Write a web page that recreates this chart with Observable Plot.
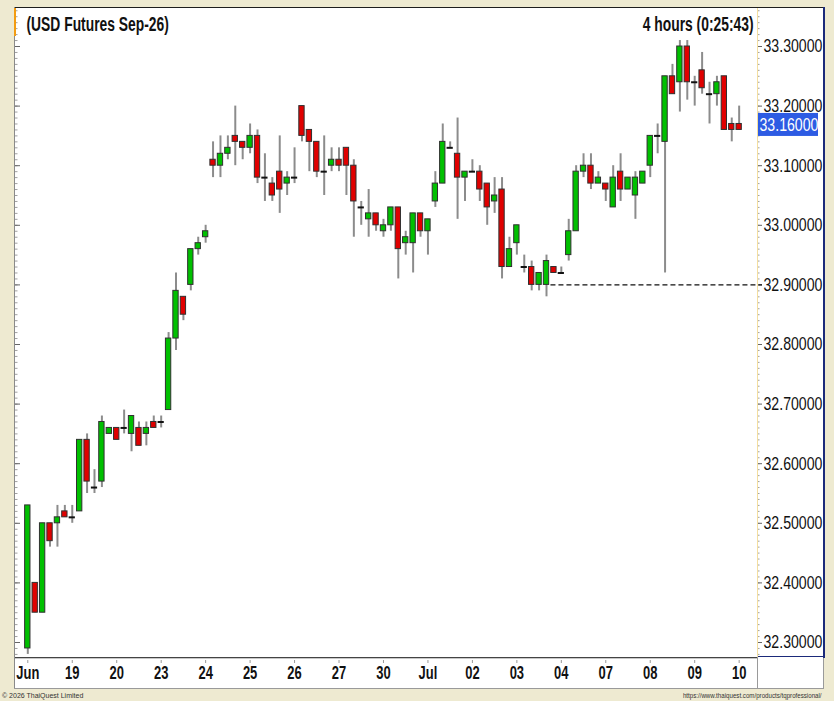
<!DOCTYPE html>
<html>
<head>
<meta charset="utf-8">
<script src="https://cdn.jsdelivr.net/npm/d3@7"></script>
<script src="https://cdn.jsdelivr.net/npm/@observablehq/plot@0.6"></script>
<style>
html,body{margin:0;padding:0;}
body{width:834px;height:701px;background:#eeead1;position:relative;overflow:hidden;font-family:"Liberation Sans",Arial,Helvetica,sans-serif;}
#chart{position:absolute;left:14px;top:7px;}
.ln{position:absolute;}
#copy{position:absolute;left:2px;top:692px;font-size:7px;line-height:8px;color:#333;white-space:nowrap;}
#url{position:absolute;right:12px;top:692px;font-size:7px;line-height:8px;color:#333;white-space:nowrap;transform:scaleX(0.88);transform-origin:right center;}
</style>
</head>
<body>
<div id="chart"></div>
<div class="ln" style="left:14px;top:7px;width:810px;height:1px;background:#1e1e1e"></div>
<div class="ln" style="left:14px;top:7px;width:1px;height:682px;background:#8a8a8a"></div>
<div class="ln" style="left:14px;top:8px;width:2px;height:28px;background:#f39c12"></div>
<div class="ln" style="left:15px;top:657px;width:742px;height:1px;background:#444"></div>
<div class="ln" style="left:15px;top:658px;width:742px;height:1px;background:#c8c8c8"></div>
<div class="ln" style="left:14px;top:688px;width:810px;height:1px;background:#9a9a9a"></div>
<div class="ln" style="left:757px;top:657px;width:1px;height:32px;background:#9a9a9a"></div>
<div class="ln" style="left:757px;top:8px;width:1px;height:649px;background:#f3dea0"></div>
<div class="ln" style="left:823px;top:7px;width:2px;height:651px;background:#1b2a7a"></div>
<div class="ln" style="left:758px;top:656px;width:66px;height:1px;background:#1b2a7a"></div>
<div class="ln" style="left:823px;top:658px;width:1px;height:31px;background:#9a9a9a"></div>
<div id="copy">© 2026 ThaiQuest Limited</div>
<div id="url">https://www.thaiquest.com/products/tqprofessional/</div>
<script>
// ---- data ----
const title = "(USD Futures Sep-26)";
const timeframe = "4 hours (0:25:43)";
const dayLabels = ["Jun","19","20","23","24","25","26","27","30","Jul","02","03","04","07","08","09","10"];
const barsPerDay = 6;
const yTicks = [33.3,33.2,33.1,33.0,32.9,32.8,32.7,32.6,32.5,32.4,32.3];

const open = [
  32.29,32.40,32.35,32.50,32.50,32.52,32.51,32.52,32.64,32.56,
  32.57,32.65,32.66,32.66,32.65,32.66,32.65,32.67,32.67,32.69,
  32.81,32.88,32.90,32.96,32.98,33.11,33.10,33.12,33.15,33.14,
  33.13,33.15,33.08,33.07,33.09,33.07,33.08,33.20,33.16,33.14,
  33.09,33.10,33.11,33.13,33.10,33.03,33.01,33.02,32.99,33.00,
  33.03,32.97,32.97,33.02,32.99,33.04,33.07,33.13,33.12,33.08,
  33.09,33.09,33.07,33.04,33.06,32.93,32.97,32.93,32.93,32.90,
  32.90,32.93,32.92,32.95,32.99,33.09,33.10,33.07,33.07,33.03,
  33.09,33.06,33.05,33.07,33.10,33.15,33.14,33.25,33.24,33.30,
  33.24,33.26,33.22,33.22,33.25,33.17,33.17];
const high = [
  32.53,32.40,32.50,32.50,32.53,32.53,32.53,32.64,32.65,32.59,
  32.68,32.66,32.66,32.69,32.68,32.67,32.67,32.68,32.68,32.82,
  32.92,32.88,32.96,32.98,33.00,33.14,33.15,33.15,33.20,33.14,
  33.17,33.16,33.12,33.08,33.15,33.09,33.13,33.20,33.16,33.14,
  33.15,33.13,33.13,33.13,33.11,33.04,33.06,33.02,33.01,33.03,
  33.03,32.99,33.02,33.02,33.01,33.09,33.17,33.14,33.18,33.09,
  33.11,33.10,33.07,33.08,33.08,32.98,33.00,32.95,32.94,32.92,
  32.95,32.93,32.93,33.01,33.10,33.12,33.12,33.09,33.07,33.10,
  33.12,33.08,33.09,33.09,33.15,33.17,33.25,33.27,33.31,33.31,
  33.25,33.29,33.24,33.25,33.25,33.18,33.20];
const low = [
  32.28,32.35,32.35,32.46,32.46,32.51,32.50,32.52,32.55,32.55,
  32.56,32.65,32.64,32.65,32.62,32.63,32.63,32.66,32.66,32.69,
  32.79,32.84,32.89,32.95,32.97,33.08,33.08,33.11,33.10,33.11,
  33.12,33.07,33.04,33.04,33.02,33.05,33.07,33.14,33.09,33.08,
  33.05,33.09,33.09,33.05,32.98,33.00,32.98,32.99,32.98,32.99,
  32.91,32.95,32.92,32.98,32.95,33.03,33.07,33.13,33.01,33.04,
  33.09,33.04,33.00,33.02,32.91,32.93,32.95,32.92,32.89,32.89,
  32.88,32.92,32.92,32.94,32.99,33.08,33.06,33.07,33.04,33.03,
  33.04,33.06,33.01,33.07,33.08,33.12,32.92,33.22,33.19,33.21,
  33.20,33.22,33.17,33.20,33.16,33.14,33.16];
const close = [
  32.53,32.35,32.50,32.47,32.51,32.51,32.51,32.64,32.57,32.56,
  32.67,32.66,32.64,32.66,32.68,32.63,32.66,32.66,32.67,32.81,
  32.89,32.85,32.96,32.97,32.99,33.10,33.12,33.13,33.14,33.13,
  33.15,33.08,33.08,33.05,33.06,33.08,33.08,33.15,33.14,33.09,
  33.09,33.11,33.10,33.10,33.04,33.03,33.02,33.00,33.00,33.03,
  32.96,32.98,33.02,32.99,33.01,33.07,33.14,33.13,33.08,33.09,
  33.09,33.06,33.03,33.05,32.93,32.96,33.00,32.93,32.90,32.92,
  32.94,32.92,32.92,32.99,33.09,33.10,33.07,33.08,33.06,33.08,
  33.06,33.08,33.08,33.09,33.15,33.15,33.25,33.22,33.30,33.24,
  33.24,33.23,33.22,33.24,33.16,33.16,33.16];

const supportLevel = [32.90];
const supportStart = 70.6;

// ---- derived ----
const candles = close.map((c, i) => ({i, open: open[i], high: high[i], low: low[i], close: c}));
const lastClose = close[close.length - 1];

const PX_X = 7.41, PX_Y = 596;
const W = 810, H = 682, mL = 1, mR = 67, mT = 1, mB = 31;
const fw = W - mL - mR, fh = H - mT - mB;
const xMin = -12.3 / PX_X, xMax = xMin + fw / PX_X;
const yMax = 33.3 + 38 / PX_Y, yMin = yMax - fh / PX_Y;
const px = n => n / PX_X, py = n => n / PX_Y;

const minor = d3.range(3228, 3337).map(k => k / 100);
const dayIdx = dayLabels.map((d, k) => k * barsPerDay);

const GREEN = "#00c000", RED = "#e00000";

const chart = Plot.plot({
  width: W, height: H,
  marginLeft: mL, marginRight: mR, marginTop: mT, marginBottom: mB,
  x: {type: "linear", domain: [xMin, xMax], axis: null},
  y: {type: "linear", domain: [yMin, yMax], axis: null},
  style: {background: "white", overflow: "visible", fontFamily: '"Liberation Sans", Arial, Helvetica, sans-serif'},
  marks: [
    Plot.ruleY(minor, {y: d => d, x1: () => xMax, x2: () => xMax + px(2.5), stroke: "#a0a0a0", strokeWidth: 1}),
    Plot.ruleY(yTicks, {y: d => d, x1: () => xMax, x2: () => xMax + px(5), stroke: "#666", strokeWidth: 1}),
    Plot.ruleY(minor, {y: d => d, x1: () => xMin, x2: () => xMin + px(2.5), stroke: "#a0a0a0", strokeWidth: 1}),
    Plot.ruleY(yTicks, {y: d => d, x1: () => xMin, x2: () => xMin + px(5), stroke: "#666", strokeWidth: 1}),
    Plot.ruleX(dayIdx, {x: d => d, y1: () => yMin - py(2), y2: () => yMin - py(5), stroke: "#999"}),
    Plot.ruleX(candles, {x: "i", y1: "low", y2: "high", stroke: "#8c8c8c", strokeWidth: 2}),
    Plot.rect(candles.filter(d => d.open !== d.close), {
      x1: d => d.i - 0.36, x2: d => d.i + 0.36, y1: "open", y2: "close",
      fill: d => d.close > d.open ? GREEN : RED, stroke: "#303030", strokeWidth: 1
    }),
    Plot.ruleY(candles.filter(d => d.open === d.close), {
      y: "close", x1: d => d.i - 0.42, x2: d => d.i + 0.42, stroke: "#111", strokeWidth: 2
    }),
    Plot.ruleY(supportLevel, {y: d => d, x1: () => supportStart, x2: () => xMax + px(5), stroke: "#111", strokeWidth: 1.3, strokeDasharray: "5,3"}),
    Plot.text(yTicks, {x: () => xMax, y: d => d, text: d => d.toFixed(5), dx: 6, textAnchor: "start", lineAnchor: "middle", fontSize: 18.5, fill: "#111"}),
    Plot.rect([lastClose], {x1: () => xMax + px(1), x2: () => xMax + px(61), y1: d => d + py(16.5), y2: d => d - py(6.5), fill: "#2d5be3"}),
    Plot.text([lastClose], {x: () => xMax, y: d => d, text: d => d.toFixed(5), dx: 2, dy: -4.5, textAnchor: "start", lineAnchor: "middle", fontSize: 18.5, fill: "white"}),
    Plot.text(dayLabels, {x: (d, k) => k * barsPerDay, y: () => yMin, text: d => d, dy: 15, textAnchor: "middle", lineAnchor: "middle", fontSize: 18, fontWeight: "bold", fill: "#111"}),
    Plot.text([title], {frameAnchor: "top-left", text: d => d, dx: 11, dy: 16, textAnchor: "start", lineAnchor: "middle", fontSize: 19.5, fontWeight: "bold", fill: "#111"}),
    Plot.text([timeframe], {frameAnchor: "top-right", text: d => d, dx: -4, dy: 16, textAnchor: "end", lineAnchor: "middle", fontSize: 19.5, fontWeight: "bold", fill: "#111"})
  ]
});

document.getElementById("chart").appendChild(chart);

// condense text horizontally (source uses a narrow rendering)
const scaleMap = new Map();
scaleMap.set(title, 0.71);
scaleMap.set(timeframe, 0.71);
yTicks.forEach(v => scaleMap.set(v.toFixed(5), 0.764));
scaleMap.set(lastClose.toFixed(5), 0.764);
dayLabels.forEach(t => scaleMap.set(t, 0.72));
chart.querySelectorAll("text").forEach(t => {
  const s = scaleMap.get(t.textContent);
  if (!s) return;
  const x = +(t.getAttribute("x") || 0);
  const tr = t.getAttribute("transform") || "";
  t.setAttribute("transform", `${tr} translate(${x},0) scale(${s},1) translate(${-x},0)`);
});
</script>
</body>
</html>
